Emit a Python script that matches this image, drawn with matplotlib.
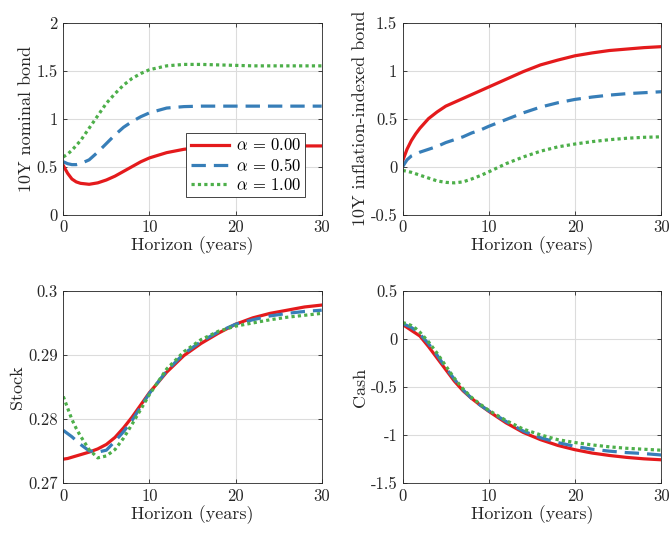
import matplotlib
matplotlib.use("Agg")
import matplotlib.pyplot as plt

plt.rcParams['font.family'] = 'serif'
plt.rcParams['font.serif'] = ['cmr10']
plt.rcParams['mathtext.fontset'] = 'cm'
plt.rcParams['axes.unicode_minus'] = False

# horizon grid (years)
horizon = [0, 0.5, 1, 1.5, 2, 3, 4, 5, 6, 7, 8, 9, 10, 12, 14, 16, 18, 20, 22, 24, 26, 28, 30]

# 10Y nominal bond
nom_a0 = [0.51, 0.43, 0.37, 0.34, 0.325, 0.315, 0.33, 0.36, 0.40, 0.45, 0.50, 0.55, 0.59,
          0.645, 0.68, 0.70, 0.71, 0.715, 0.715, 0.715, 0.715, 0.715, 0.715]
nom_a5 = [0.55, 0.53, 0.52, 0.52, 0.53, 0.57, 0.65, 0.74, 0.83, 0.91, 0.97, 1.02, 1.06,
          1.11, 1.125, 1.13, 1.13, 1.13, 1.13, 1.13, 1.13, 1.13, 1.13]
nom_a10 = [0.6, 0.63, 0.67, 0.72, 0.77, 0.9, 1.03, 1.16, 1.26, 1.35, 1.42, 1.47, 1.51,
           1.55, 1.565, 1.565, 1.56, 1.555, 1.55, 1.55, 1.55, 1.55, 1.55]

# 10Y inflation-indexed bond
iib_a0 = [0.06, 0.18, 0.27, 0.34, 0.40, 0.50, 0.57, 0.63, 0.67, 0.71, 0.75, 0.79, 0.83,
          0.91, 0.99, 1.06, 1.11, 1.155, 1.185, 1.21, 1.225, 1.24, 1.25]
iib_a5 = [0.0, 0.07, 0.11, 0.13, 0.15, 0.18, 0.21, 0.25, 0.28, 0.31, 0.35, 0.38, 0.42,
          0.49, 0.56, 0.62, 0.665, 0.70, 0.725, 0.745, 0.76, 0.77, 0.78]
iib_a10 = [-0.04, -0.05, -0.06, -0.075, -0.09, -0.12, -0.15, -0.165, -0.17, -0.16, -0.13, -0.095, -0.055,
           0.03, 0.10, 0.16, 0.205, 0.235, 0.26, 0.28, 0.295, 0.305, 0.31]

# Stock
stk_a0 = [0.2737, 0.2738, 0.2740, 0.2742, 0.2744, 0.2748, 0.2753, 0.2760, 0.2771, 0.2786, 0.2803, 0.2822, 0.2841,
          0.2873, 0.2899, 0.2918, 0.2934, 0.2948, 0.2958, 0.2965, 0.2970, 0.2975, 0.2978]
stk_a5 = [0.2782, 0.2777, 0.2772, 0.2766, 0.2760, 0.2750, 0.2748, 0.2751, 0.2765, 0.2780, 0.2798, 0.2819, 0.2840,
          0.2875, 0.2902, 0.2921, 0.2936, 0.2948, 0.2955, 0.2961, 0.2965, 0.2968, 0.2970]
stk_a10 = [0.2835, 0.2817, 0.2799, 0.2785, 0.2773, 0.2752, 0.2739, 0.2742, 0.2752, 0.2770, 0.2792, 0.2815, 0.2838,
           0.2878, 0.2905, 0.2924, 0.2937, 0.2945, 0.2950, 0.2955, 0.2959, 0.2962, 0.2965]

# Cash
cash_a0 = [0.15, 0.12, 0.09, 0.06, 0.03, -0.08, -0.20, -0.32, -0.44, -0.54, -0.62, -0.69, -0.755,
           -0.875, -0.975, -1.05, -1.11, -1.155, -1.19, -1.215, -1.235, -1.25, -1.26]
cash_a5 = [0.16, 0.14, 0.12, 0.09, 0.05, -0.05, -0.17, -0.30, -0.42, -0.53, -0.62, -0.69, -0.75,
           -0.86, -0.96, -1.03, -1.08, -1.12, -1.15, -1.17, -1.185, -1.195, -1.21]
cash_a10 = [0.17, 0.16, 0.14, 0.11, 0.07, -0.03, -0.15, -0.28, -0.41, -0.52, -0.61, -0.68, -0.745,
            -0.85, -0.94, -1.00, -1.05, -1.08, -1.105, -1.125, -1.14, -1.15, -1.16]

labels = [r'$\alpha\,=\,\mathbf{0.00}$', r'$\alpha\,=\,\mathbf{0.50}$', r'$\alpha\,=\,\mathbf{1.00}$']
colors = ['#e41a1c', '#377eb8', '#4daf4a']
styles = ['-', (0, (4.5, 2.5)), (0, (1, 1))]

panels = [
    ('10Y nominal bond', [nom_a0, nom_a5, nom_a10], (0, 2),
     [0, 0.5, 1, 1.5, 2], ['0', '0.5', '1', '1.5', '2']),
    ('10Y inflation-indexed bond', [iib_a0, iib_a5, iib_a10], (-0.5, 1.5),
     [-0.5, 0, 0.5, 1, 1.5], ['-0.5', '0', '0.5', '1', '1.5']),
    ('Stock', [stk_a0, stk_a5, stk_a10], (0.27, 0.30),
     [0.27, 0.28, 0.29, 0.30], ['0.27', '0.28', '0.29', '0.3']),
    ('Cash', [cash_a0, cash_a5, cash_a10], (-1.5, 0.5),
     [-1.5, -1, -0.5, 0, 0.5], ['-1.5', '-1', '-0.5', '0', '0.5']),
]

fig = plt.figure(figsize=(6.72, 5.33), dpi=100)
W, H = 672, 533
boxes = [(63.3, 22.7), (402.7, 22.7), (63.3, 291), (402.7, 291)]
aw, ah = 258.4, 191.8

for (x0, y0), (ylabel, series, ylim, yt, ytl) in zip(boxes, panels):
    ax = fig.add_axes([x0 / W, 1 - (y0 + ah) / H, aw / W, ah / H])
    for s, c, ls, lab in zip(series, colors, styles, labels):
        ax.plot(horizon, s, color=c, linestyle=ls, linewidth=2.3, label=lab)
    ax.set_xlim(0, 30)
    ax.set_ylim(*ylim)
    ax.set_xticks([0, 10, 20, 30])
    ax.set_xticklabels(['0', '10', '20', '30'])
    ax.set_yticks(yt)
    ax.set_yticklabels(ytl)
    ax.grid(True, color='#dcdcdc', linewidth=0.8)
    ax.set_axisbelow(True)
    ax.tick_params(direction='in', top=True, right=True, length=3, width=0.6,
                   labelsize=12, colors='#262626', pad=4)
    for sp in ax.spines.values():
        sp.set_linewidth(0.6)
        sp.set_color('#262626')
    ax.set_xlabel('Horizon (years)', fontsize=13, color='#262626', labelpad=1)
    ax.set_ylabel(ylabel, fontsize=13, color='#262626', labelpad=2)
    if ylabel == '10Y nominal bond':
        leg = ax.legend(loc='lower right', bbox_to_anchor=(0.935, 0.09), borderaxespad=0,
                        fancybox=False, edgecolor='#262626', framealpha=1, fontsize=12,
                        handlelength=2.3, handletextpad=0.4, borderpad=0.25, labelspacing=0.2)
        leg.get_frame().set_linewidth(0.6)

fig.savefig('out.png', dpi=100)
